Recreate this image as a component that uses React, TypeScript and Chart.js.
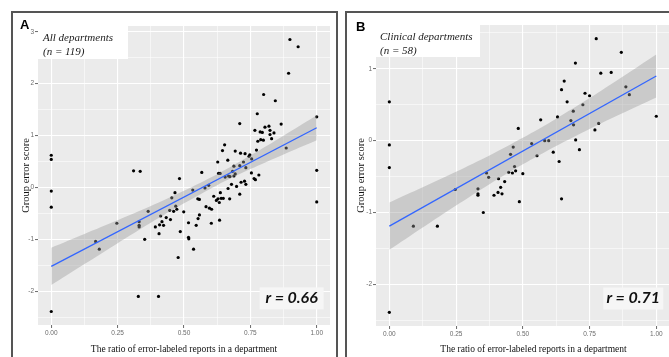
import React, { useEffect, useRef } from 'react';
import { Chart, registerables } from 'chart.js';

Chart.register(...registerables);

// ---------- data ----------
const A_X = [
  0, 0, 0.31, 0.335, 0.483, 0.567, 0.627, 0.63, 0.636, 0.645,
  0.653, 0.665, 0.668, 0.673, 0.683, 0.688, 0.693, 0.693, 0.71, 0.713,
  0.71, 0.724, 0.73, 0.733, 0.745, 0.748, 0.754, 0.755, 0.767, 0.773,
  0.776, 0.778, 0.782, 0.787, 0.795, 0.789, 0.799, 0.8, 0.805, 0.82,
  0.824, 0.824, 0.83, 0.839, 0.844, 0.866, 0.885, 0.894, 0.899, 0.93,
  1.0, 1.0, 0.764,
  0, 0, 0, 0.167, 0.181, 0.247, 0.331, 0.331, 0.331, 0.352,
  0.328, 0.365, 0.392, 0.404, 0.406, 0.408, 0.412, 0.417, 0.423, 0.433,
  0.446, 0.449, 0.454, 0.461, 0.466, 0.469, 0.473, 0.478, 0.486, 0.499,
  0.517, 0.517, 0.518, 0.533, 0.536, 0.546, 0.552, 0.558, 0.553, 0.558,
  0.579, 0.583, 0.593, 0.596, 0.604, 0.603, 0.612, 0.622, 0.628, 0.633,
  0.634, 0.637, 0.64, 0.648, 0.666, 0.672, 0.679, 0.688, 0.698, 0.71,
  0.715, 0.728, 0.733, 0.769, 1.0, 0.655,
];
const A_Y = [
  0.62, 0.54, 0.32, 0.31, 0.17, 0.29, 0.49, 0.27, 0.27, 0.71,
  0.82, 0.525, 0.22, 0.21, 0.31, 0.41, 0.7, 0.26, 1.23, 0.66,
  0.42, 0.49, 0.65, 0.38, 0.6, 0.63, 0.28, 0.55, 1.1, 0.72,
  1.42, 0.89, 0.24, 1.07, 1.06, 0.92, 0.91, 1.79, 1.16, 1.18,
  1.1, 1.02, 0.94, 1.05, 1.67, 1.22, 0.76, 2.2, 2.85, 2.71,
  1.36, 0.33, 0.17,
  -0.07, -0.38, -2.39, -1.04, -1.19, -0.69, -0.66, -0.73, -0.76, -1.0,
  -2.1, -0.46, -0.76, -2.1, -0.89, -0.72, -0.55, -0.66, -0.73, -0.58,
  -0.44, -0.62, -0.2, -0.46, -0.1, -0.36, -0.42, -1.35, -0.85, -0.47,
  -0.68, -0.96, -0.99, -0.05, -1.19, -0.73, -0.22, -0.23, -0.6, -0.53,
  -0.01, -0.37, 0.04, -0.4, -0.42, -0.69, -0.17, -0.25, -0.22, -0.29,
  -0.63, -0.1, -0.21, -0.21, -0.02, -0.22, 0.06, 0.22, 0.02, -0.13,
  0.1, 0.12, 0.06, 0.15, -0.28, 0.2,
];
const B_X = [
  0, 0, 0, 0.364, 0.372, 0.409, 0.447, 0.461, 0.469, 0.473,
  0.454, 0.464, 0.483, 0.5, 0.533, 0.553, 0.567, 0.582, 0.597, 0.614,
  0.63, 0.636, 0.645, 0.655, 0.666, 0.68, 0.689, 0.69, 0.697, 0.698,
  0.712, 0.725, 0.733, 0.75, 0.77, 0.775, 0.784, 0.792, 0.831, 0.869,
  0.886, 0.899, 1.0, 0.247, 0.332, 0.332, 0.332, 0.352, 0.392, 0.407,
  0.417, 0.422, 0.432, 0.487, 0.645, 0.09, 0.18, 0,
];
const B_Y = [
  0.54, -0.06, -0.375, -0.45, -0.51, -0.53, -0.44, -0.45, -0.36, -0.42,
  -0.19, -0.09, 0.17, -0.46, -0.04, -0.21, 0.29, 0.0, 0.0, -0.16,
  0.33, -0.29, 0.71, 0.83, 0.54, 0.28, 0.41, 0.22, 1.08, 0.01,
  -0.125, 0.5, 0.66, 0.625, 0.15, 1.42, 0.24, 0.94, 0.95, 1.23,
  0.75, 0.64, 0.34, -0.68, -0.67, -0.74, -0.76, -1.0, -0.76, -0.72,
  -0.65, -0.74, -0.57, -0.85, -0.81, -1.19, -1.19, -2.39,
];

// fitted line (endpoints) and confidence band
const FIT_X = [0, 1];
const A_FIT_Y = [-1.52, 1.15];
const B_FIT_Y = [-1.19, 0.9];
const BAND_X = [0, 0.125, 0.25, 0.375, 0.5, 0.625, 0.75, 0.875, 1];
const A_BAND_LO = [-1.88, -1.476, -1.073, -0.679, -0.305, 0.044, 0.353, 0.636, 0.91];
const A_BAND_HI = [-1.16, -0.896, -0.633, -0.359, -0.065, 0.254, 0.613, 0.996, 1.39];
const B_BAND_LO = [-1.52, -1.209, -0.903, -0.606, -0.33, -0.074, 0.163, 0.384, 0.6];
const B_BAND_HI = [-0.86, -0.649, -0.433, -0.206, 0.04, 0.306, 0.593, 0.894, 1.2];

// ticks
const X_MAJOR = [0, 0.25, 0.5, 0.75, 1];
const X_LABELS = ['0.00', '0.25', '0.50', '0.75', '1.00'];
const X_MINOR = [0.125, 0.375, 0.625, 0.875];
const A_Y_MAJOR = [-2, -1, 0, 1, 2, 3];
const A_Y_LABELS = ['-2', '-1', '0', '1', '2', '3'];
const A_Y_MINOR = [-2.5, -1.5, -0.5, 0.5, 1.5, 2.5];
const B_Y_MAJOR = [-2, -1, 0, 1];
const B_Y_LABELS = ['-2', '-1', '0', '1'];
const B_Y_MINOR = [-2.5, -1.5, -0.5, 0.5, 1.5];

// texts
const X_TITLE = 'The ratio of error-labeled reports in a department';
const Y_TITLE = 'Group error score';
const A_NOTE = ['All departments', '(n = 119)'];
const B_NOTE = ['Clinical departments', '(n = 58)'];
const A_R = 'r = 0.66';
const B_R = 'r = 0.71';

// r-label anchor (bottom-right corner, data units)
const R_ANCHOR_X = 1.026;
const R_ANCHOR_Y = -2.35;

const near = (arr: number[], v: number) => arr.findIndex((m) => Math.abs(m - v) < 1e-9);

type Panel = {
  letter: string;
  letterX: number;
  letterY: number;
  canvasW: number;
  padding: { left: number; top: number; right: number; bottom: number };
  yWidth: number;
  xHeight: number;
  xMin: number;
  xMax: number;
  yMin: number;
  yMax: number;
  yMajor: number[];
  yLabels: string[];
  yMinor: number[];
  yTitlePad: number;
  xs: number[];
  ys: number[];
  fitY: number[];
  bandLo: number[];
  bandHi: number[];
  note: string[];
  noteW: number;
  noteH: number;
  noteX: number;
  r: string;
};

const PANEL_A: Panel = {
  letter: 'A', letterX: 20, letterY: 29,
  canvasW: 669,
  padding: { left: 14, top: 26, right: 339, bottom: 0 },
  yWidth: 24, xHeight: 32,
  xMin: -0.05, xMax: 1.05, yMin: -2.65, yMax: 3.11,
  yMajor: A_Y_MAJOR, yLabels: A_Y_LABELS, yMinor: A_Y_MINOR,
  yTitlePad: 5.5,
  xs: A_X, ys: A_Y, fitY: A_FIT_Y, bandLo: A_BAND_LO, bandHi: A_BAND_HI,
  note: A_NOTE, noteW: 90, noteH: 33, noteX: 5,
  r: A_R,
};

const PANEL_B: Panel = {
  letter: 'B', letterX: 356, letterY: 31,
  canvasW: 700,
  padding: { left: 351, top: 25, right: 9, bottom: 0 },
  yWidth: 25, xHeight: 31,
  xMin: -0.05, xMax: 1.13, yMin: -2.58, yMax: 1.61,
  yMajor: B_Y_MAJOR, yLabels: B_Y_LABELS, yMinor: B_Y_MINOR,
  yTitlePad: 4,
  xs: B_X, ys: B_Y, fitY: B_FIT_Y, bandLo: B_BAND_LO, bandHi: B_BAND_HI,
  note: B_NOTE, noteW: 104, noteH: 32, noteX: 4,
  r: B_R,
};

const TICK_FONT = { family: '"Liberation Sans", Arial, sans-serif', size: 6.5 };
const TICK_COLOR = '#6b6b6b';

function gridOpts(major: number[]) {
  return {
    color: '#ffffff',
    lineWidth: (ctx: any) => (ctx.tick && near(major, ctx.tick.value) >= 0 ? 1.1 : 0.55),
    tickColor: (ctx: any) => (ctx.tick && near(major, ctx.tick.value) >= 0 ? '#444' : 'rgba(0,0,0,0)'),
    tickWidth: 0.8,
    tickLength: 3,
    drawTicks: true,
  };
}

function buildConfig(p: Panel): any {
  const decor = {
    id: 'decor_' + p.letter,
    beforeDraw(chart: any) {
      const { ctx, chartArea: a } = chart;
      ctx.save();
      ctx.fillStyle = '#EBEBEB';
      ctx.fillRect(a.left, a.top, a.right - a.left, a.bottom - a.top);
      ctx.restore();
    },
    afterDraw(chart: any) {
      const { ctx, chartArea: a, scales } = chart;
      ctx.save();
      // note box
      ctx.fillStyle = '#ffffff';
      ctx.fillRect(a.left, a.top, p.noteW, p.noteH);
      ctx.fillStyle = '#1a1a1a';
      ctx.font = 'italic 11px "Liberation Serif", "Times New Roman", serif';
      ctx.textAlign = 'left';
      ctx.textBaseline = 'alphabetic';
      ctx.fillText(p.note[0], a.left + p.noteX, a.top + 14.5);
      ctx.fillText(p.note[1], a.left + p.noteX, a.top + 28.5);
      // r label
      const rx = scales.x.getPixelForValue(R_ANCHOR_X);
      const ry = scales.y.getPixelForValue(R_ANCHOR_Y);
      const bw = p.letter === 'A' ? 64 : 60;
      const bh = 22;
      ctx.fillStyle = '#F6F6F6';
      ctx.fillRect(rx - bw, ry - bh, bw, bh);
      ctx.fillStyle = '#111111';
      ctx.font = 'italic bold 16px Lato, "Liberation Sans", sans-serif';
      ctx.textAlign = 'center';
      ctx.fillText(p.r, rx - bw / 2, ry - 6.5);
      // panel letter
      ctx.textAlign = 'left';
      ctx.font = 'bold 13px "Liberation Sans", Arial, sans-serif';
      ctx.fillStyle = '#000';
      ctx.fillText(p.letter, p.letterX, p.letterY);
      ctx.restore();
    },
  };

  return {
    type: 'scatter',
    data: {
      datasets: [
        {
          label: 'fit',
          type: 'line',
          data: FIT_X.map((x, i) => ({ x, y: p.fitY[i] })),
          borderColor: '#3366FF',
          borderWidth: 1.3,
          pointRadius: 0,
          fill: false,
          order: 1,
        },
        {
          label: 'bandLo',
          type: 'line',
          data: BAND_X.map((x, i) => ({ x, y: p.bandLo[i] })),
          borderWidth: 0,
          borderColor: 'rgba(0,0,0,0)',
          pointRadius: 0,
          fill: false,
          tension: 0.3,
          order: 3,
        },
        {
          label: 'bandHi',
          type: 'line',
          data: BAND_X.map((x, i) => ({ x, y: p.bandHi[i] })),
          borderWidth: 0,
          borderColor: 'rgba(0,0,0,0)',
          backgroundColor: 'rgba(153,153,153,0.4)',
          pointRadius: 0,
          fill: '-1',
          tension: 0.3,
          order: 2,
        },
        {
          label: 'points',
          data: p.xs.map((x, i) => ({ x, y: p.ys[i] })),
          backgroundColor: '#000000',
          borderWidth: 0,
          pointRadius: 1.6,
          order: 4,
        },
      ],
    },
    options: {
      animation: false,
      responsive: false,
      events: [],
      layout: { padding: p.padding },
      plugins: { legend: { display: false }, tooltip: { enabled: false } },
      scales: {
        x: {
          type: 'linear',
          min: p.xMin,
          max: p.xMax,
          afterBuildTicks: (s: any) => {
            s.ticks = [...X_MAJOR, ...X_MINOR].sort((a, b) => a - b).map((v) => ({ value: v }));
          },
          afterFit: (s: any) => {
            s.height = p.xHeight;
          },
          border: { display: false },
          grid: gridOpts(X_MAJOR),
          ticks: {
            autoSkip: false,
            maxRotation: 0,
            minRotation: 0,
            padding: 1,
            color: TICK_COLOR,
            font: TICK_FONT,
            callback: (v: number) => {
              const i = near(X_MAJOR, v);
              return i >= 0 ? X_LABELS[i] : '';
            },
          },
          title: {
            display: true,
            text: X_TITLE,
            color: '#111',
            font: { family: '"Liberation Serif", "Times New Roman", serif', size: 9.5 },
            padding: { top: 0, bottom: 2 },
          },
        },
        y: {
          type: 'linear',
          min: p.yMin,
          max: p.yMax,
          afterBuildTicks: (s: any) => {
            s.ticks = [...p.yMajor, ...p.yMinor].sort((a, b) => a - b).map((v) => ({ value: v }));
          },
          afterFit: (s: any) => {
            s.width = p.yWidth;
          },
          border: { display: false },
          grid: gridOpts(p.yMajor),
          ticks: {
            autoSkip: false,
            padding: 1,
            color: TICK_COLOR,
            font: TICK_FONT,
            callback: (v: number) => {
              const i = near(p.yMajor, v);
              return i >= 0 ? p.yLabels[i] : '';
            },
          },
          title: {
            display: true,
            text: Y_TITLE,
            color: '#111',
            font: { family: '"Liberation Serif", "Times New Roman", serif', size: 10.5 },
            padding: { top: p.yTitlePad, bottom: 0 },
          },
        },
      },
    },
    plugins: [decor],
  };
}

function PanelCanvas({ panel }: { panel: Panel }) {
  const ref = useRef<HTMLCanvasElement | null>(null);
  useEffect(() => {
    if (!ref.current) return;
    const chart = new Chart(ref.current, buildConfig(panel));
    return () => chart.destroy();
  }, [panel]);
  return (
    <canvas
      ref={ref}
      width={panel.canvasW}
      height={357}
      style={{ position: 'absolute', left: 0, top: 0, width: panel.canvasW, height: 357 }}
    />
  );
}

export default function App() {
  return (
    <div
      style={{
        position: 'absolute',
        left: 0,
        top: 0,
        width: 669,
        height: 357,
        overflow: 'hidden',
        background: '#ffffff',
      }}
    >
      <div
        style={{
          position: 'absolute',
          left: 11,
          top: 11,
          width: 327,
          height: 380,
          border: '2px solid #555',
          boxSizing: 'border-box',
        }}
      />
      <div
        style={{
          position: 'absolute',
          left: 345,
          top: 11,
          width: 400,
          height: 380,
          border: '2px solid #555',
          boxSizing: 'border-box',
        }}
      />
      <PanelCanvas panel={PANEL_A} />
      <PanelCanvas panel={PANEL_B} />
    </div>
  );
}
